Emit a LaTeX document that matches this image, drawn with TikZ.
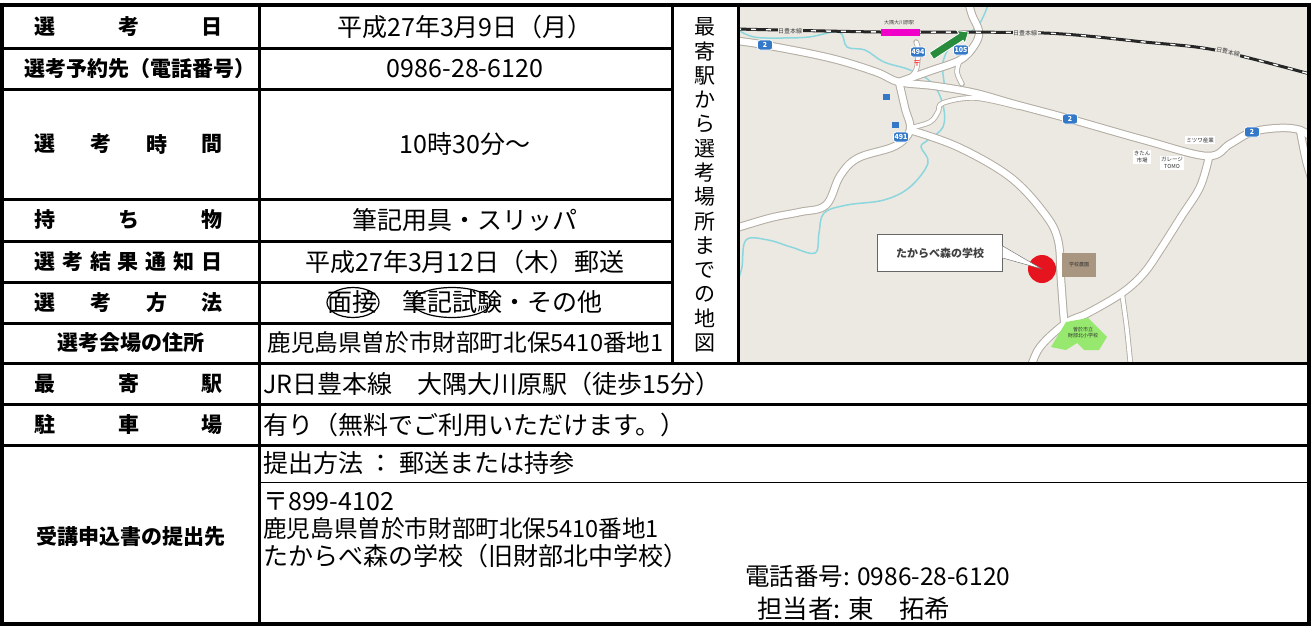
\documentclass[tikz,border=0pt]{standalone}
\usepackage{fontspec}
\setmainfont{Noto Sans CJK JP}
\usetikzlibrary{shapes.geometric}
\definecolor{mapbg}{RGB}{236,233,226}
\definecolor{roadedge}{RGB}{178,172,162}
\definecolor{river}{RGB}{140,214,222}
\definecolor{markerblue}{RGB}{52,120,200}
\definecolor{stationpink}{RGB}{240,0,200}
\definecolor{arrowgreen}{RGB}{40,140,60}
\definecolor{farmbrown}{RGB}{168,150,128}
\definecolor{schoolgreen}{RGB}{150,232,110}
\definecolor{pinred}{RGB}{230,20,30}
\tikzset{
  gridline/.style={line width=3pt},
  thinrule/.style={line width=1pt},
  border/.style={line width=4.5pt},
  lab/.style={font=\fontsize{21}{24}\selectfont\bfseries, inner sep=0pt},
  val/.style={font=\fontsize{25}{28}\selectfont, inner sep=0pt},
  addr/.style={font=\fontsize{23.6}{28}\selectfont, inner sep=0pt},
  vchar/.style={font=\fontsize{21}{24}\selectfont, inner sep=0pt},
  marker/.style={fill=markerblue, draw=white, line width=0.8pt, text=white, rounded corners=2.5pt,
    inner sep=0.5pt, minimum width=15pt, minimum height=10pt, font=\fontsize{7}{8}\selectfont\bfseries},
  tinylab/.style={font=\fontsize{6}{7}\selectfont, text=black!75, inner sep=0.5pt},
  poi/.style={fill=white, font=\fontsize{5.5}{6.5}\selectfont, text=black!80, inner sep=1pt, align=center},
  circ/.style={draw=black, line width=1.2pt, ellipse, inner sep=0pt},
}
\newcommand\mapRoads[3]{%
  \draw[line width=#1, #3, line cap=round, line join=round] plot[smooth, tension=0.6] coordinates {(730,40) (765,45) (830,58) (876,72) (899,82) (935,86) (975,93) (1014,104) (1070,119) (1144,140) (1207,156) (1230,144) (1252,132) (1280,128) (1300,130) (1312,138)};
  \draw[line width=#1, #3, line cap=round, line join=round] plot[smooth, tension=0.6] coordinates {(899,82) (930,71) (960,60) (974,46) (979,32) (972,15) (968,0)};
  \draw[line width=#1, #3, line cap=round, line join=round] plot[smooth, tension=0.6] coordinates {(899,82) (905,108) (910,130) (895,146) (858,158) (840,176) (826,205) (800,212) (770,218) (730,230)};
  \draw[line width=#1, #3, line cap=round, line join=round] plot[smooth, tension=0.6] coordinates {(910,130) (958,147) (1010,177) (1044,213) (1058,240) (1061,280) (1064,320) (1066,335)};
  \draw[line width=#1, #3, line cap=round, line join=round] plot[smooth, tension=0.6] coordinates {(1209,157) (1200,187) (1181,217) (1162,247) (1144,273) (1122,293) (1088,313) (1066,323) (1040,347) (1030,370)};
  \draw[line width=#1, #3, line cap=round, line join=round] plot[smooth, tension=0.6] coordinates {(1300,130) (1306,160) (1312,180)};
  \draw[line width=#2, #3, line cap=round, line join=round] plot[smooth, tension=0.6] coordinates {(960,60) (957,72) (962,84)};
  \draw[line width=#2, #3, line cap=round, line join=round] plot[smooth, tension=0.6] coordinates {(1122,293) (1127,330) (1131,370)};
  \draw[line width=#2, #3, line cap=round, line join=round] plot[smooth, tension=0.6] coordinates {(910,128) (930,122) (938,112) (943,103) (975,98) (1018,107)};
  \draw[line width=#2, #3, line cap=round, line join=round] plot[smooth, tension=0.6] coordinates {(905,82) (916,70) (918,50) (916,42)};
}
\begin{document}
\begin{tikzpicture}[x=1pt,y=-1pt]
\useasboundingbox (0,0) rectangle (1315,627);
\fill[white] (0,0) rectangle (1315,627);

% ---------- map ----------
\begin{scope}
  \clip (738,5) rectangle (1307,363);
  \fill[mapbg] (738,5) rectangle (1307,363);
  % rivers
  \draw[river, line width=1.5pt] plot[smooth, tension=0.6] coordinates {(738,30) (754,37) (780,38) (809,37) (839,32) (847,47) (865,50) (884,62) (910,70) (932,83) (943,105) (943,127) (928,140) (921,147) (928,163) (910,187) (884,200) (847,205) (824,213) (819,233) (815,253) (791,247) (768,240) (746,240) (742,267) (738,280)};
  \draw[river, line width=1.5pt] plot[smooth, tension=0.6] coordinates {(988,5) (977,27) (955,40) (943,62) (945,87)};
  % roads
  \mapRoads{8.5pt}{5.5pt}{roadedge}
  \mapRoads{6.5pt}{3.8pt}{white}
  % railway
  \draw[line width=3pt, black!85] plot[smooth] coordinates {(736,29) (880,32) (1044,33) (1144,42) (1215,50) (1310,74)};
  \draw[line width=1.4pt, white, dash pattern=on 5pt off 10pt] plot[smooth] coordinates {(736,29) (880,32) (1044,33) (1144,42) (1215,50) (1310,74)};
  \node[tinylab, fill=mapbg] (rl1) at (790,31) {日豊本線};
  \node[tinylab, fill=mapbg] (rl2) at (1025,33) {日豊本線};
  \node[tinylab, fill=mapbg, rotate=-13] (rl3) at (1228,52) {日豊本線};
  % station
  \node[fill=stationpink, minimum width=39pt, minimum height=7pt, inner sep=0pt] (station) at (900,32) {};
  \node[tinylab, font=\fontsize{5}{6}\selectfont] (stationname) at (899,23) {大隅大川原駅};
  % green arrow
  \begin{scope}[shift={(950,44)}, rotate=33]
    \fill[arrowgreen, draw=white, line width=0.8pt] (-22,-4) -- (13,-4) -- (13,-7.5) -- (22,0) -- (13,7.5) -- (13,4) -- (-22,4) -- cycle;
  \end{scope}
  % road markers
  \node[marker] (m2a) at (765,45) {2};
  \node[marker] (m2b) at (1070,119) {2};
  \node[marker] (m2c) at (1252,132) {2};
  \node[marker] (m494) at (918,52) {494};
  \node[marker] (m105) at (961,50) {105};
  \node[marker] (m491) at (901,137) {491};
  % small icons
  \node[text=red, font=\fontsize{8}{9}\selectfont, inner sep=0pt] (post) at (917,64) {〒};
  \node[fill=markerblue, minimum width=7pt, minimum height=6pt, inner sep=0pt] (gas1) at (886,97) {};
  \node[fill=markerblue, minimum width=7pt, minimum height=6pt, inner sep=0pt] (gas2) at (895,125) {};
  % POI labels
  \node[poi] (mitsuwa) at (1200,140) {ミツワ産業};
  \node[poi] (kitan) at (1142,157) {きたん\\市場};
  \node[poi] (garage) at (1172,163) {ガレージ\\TOMO};
  % farm
  \node[fill=farmbrown, minimum width=34pt, minimum height=24pt, inner sep=0pt, font=\fontsize{5}{6}\selectfont, text=black!80] (farm) at (1079,265) {学校農園};
  % school
  \fill[schoolgreen] (1051,347) -- (1066,322) -- (1088,318) -- (1107,337) -- (1099,350) -- (1084,350) -- (1077,343) -- (1066,350) -- cycle;
  \node[font=\fontsize{5}{6}\selectfont, text=black!80, align=center, inner sep=0pt] (school) at (1083,333) {曽於市立\\財部北小学校};
  % pin and callout
  \node[circle, fill=pinred, minimum size=28pt, inner sep=0pt] (pin) at (1042,269) {};
  \node[draw=black!60, fill=white, minimum width=125pt, minimum height=37pt, inner sep=0pt,
        font=\fontsize{11}{12}\selectfont\bfseries, text=black!75] (callout) at (940,253) {たからべ森の学校};
  \draw[draw=black!60, fill=white] ([yshift=7pt]callout.east) -- (pin.center) -- ([yshift=-5pt]callout.east);
  \draw[black!45, line width=1pt] (738,5) rectangle (1307,363);
\end{scope}

% ---------- grid ----------
\draw[gridline] (259,5) -- (259,624);
\draw[gridline] (672,5) -- (672,363);
\draw[gridline] (738,5) -- (738,363);
\foreach \yy in {48,89,199,241,282,323} \draw[gridline] (2,\yy) -- (672,\yy);
\foreach \yy in {363,404,445} \draw[gridline] (2,\yy) -- (1309,\yy);
\draw[thinrule] (259,482) -- (1309,482);
\draw[border] (2,5) rectangle (1309,624);

% ---------- column 1 labels ----------
\foreach \c/\x [count=\i] in {選/45,考/129,日/212} \node[lab] (ra\i) at (\x,26.5) {\c};
\node[lab] (rb) at (140,68.5) {選考予約先（電話番号）};
\foreach \c/\x [count=\i] in {選/45,考/101,時/157,間/212} \node[lab] (rc\i) at (\x,144) {\c};
\foreach \c/\x [count=\i] in {持/45,ち/129,物/212} \node[lab] (rd\i) at (\x,220) {\c};
\foreach \c [count=\i] in {選,考,結,果,通,知,日} \node[lab] (re\i) at ({45+(\i-1)*27.83},261.5) {\c};
\foreach \c/\x [count=\i] in {選/45,考/101,方/157,法/212} \node[lab] (rf\i) at (\x,302.5) {\c};
\node[lab] (rg) at (131,343) {選考会場の住所};
\foreach \c/\x [count=\i] in {最/45,寄/129,駅/212} \node[lab] (rh\i) at (\x,383.5) {\c};
\foreach \c/\x [count=\i] in {駐/45,車/129,場/212} \node[lab] (ri\i) at (\x,424.5) {\c};
\node[lab] (rj) at (131,536) {受講申込書の提出先};

% ---------- column 2 values ----------
\node[val] (va) at (465,26.5) {平成27年3月9日（月）};
\node[val] (vb) at (465,68.5) {0986-28-6120};
\node[val] (vc) at (465,144) {10時30分〜};
\node[val] (vd) at (465,220) {筆記用具・スリッパ};
\node[val] (ve) at (465,261.5) {平成27年3月12日（木）郵送};
\node[val] (vf) at (465,302.5) {面接　筆記試験・その他};
\node[circ, minimum width=52pt, minimum height=30pt] (ov1) at (353,302.5) {};
\node[circ, minimum width=78pt, minimum height=30pt] (ov2) at (452,302.5) {};
\node[addr] (vg) at (465.5,343) {鹿児島県曽於市財部町北保5410番地1};

% ---------- lower rows ----------
\node[val, anchor=west] (vh) at (263,383.5) {JR日豊本線　大隅大川原駅（徒歩15分）};
\node[val, anchor=west] (vi) at (263,424.5) {有り（無料でご利用いただけます。）};
\node[val, anchor=west] (vj) at (263,463.5) {提出方法 ： 郵送または持参};
\node[val, anchor=west] (vk) at (263,502) {〒899-4102};
\node[addr, anchor=west] (vl) at (263,529) {鹿児島県曽於市財部町北保5410番地1};
\node[val, anchor=west] (vm) at (263,556) {たからべ森の学校（旧財部北中学校）};
\node[val, anchor=west, font=\fontsize{24.5}{28}\selectfont] (vn) at (745,576) {電話番号: 0986-28-6120};
\node[val, anchor=west, font=\fontsize{25.5}{28}\selectfont] (vo) at (757,609) {担当者: 東　拓希};

% ---------- vertical caption ----------
\foreach \c [count=\i] in {最,寄,駅,か,ら,選,考,場,所,ま,で,の,地,図}
  \node[vchar] (vt\i) at (705,{27+(\i-1)*24.3}) {\c};
\end{tikzpicture}
\end{document}
